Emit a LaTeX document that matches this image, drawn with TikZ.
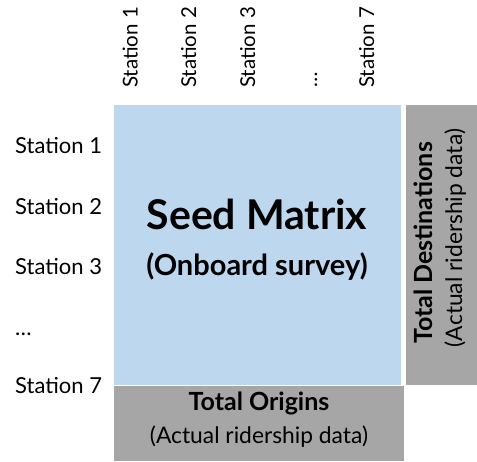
\documentclass[tikz,border=0pt]{standalone}
\usepackage{fontspec}
\setmainfont{Lato}
\definecolor{seedblue}{HTML}{BDD7EE}
\definecolor{totalgray}{HTML}{A6A6A6}
\begin{document}
\begin{tikzpicture}[x=1pt,y=-1pt,
  lbl/.style={inner sep=0pt,font=\fontsize{22}{25}\selectfont},
  collbl/.style={lbl,rotate=90,anchor=base west,font=\fontsize{20.5}{24}\selectfont},
  rowlbl/.style={lbl,anchor=base west},
  sublbl/.style={inner sep=0pt,anchor=base,font=\fontsize{22.8}{26}\selectfont},
  headlbl/.style={inner sep=0pt,anchor=base,font=\fontsize{25}{28}\selectfont\bfseries}]
\useasboundingbox (0,0) rectangle (477,461);

% blocks
\fill[seedblue] (114,105) rectangle (401,385);
\fill[totalgray] (406,105) rectangle (477,385);
\fill[totalgray] (114,386) rectangle (404,461);

% column headers
\node[collbl] (c1) at (137.5,88) {Station 1};
\node[collbl] (c2) at (196,88) {Station 2};
\node[collbl] (c3) at (255,88) {Station 3};
\node[collbl] (c4) at (317,88) {\dots};
\node[collbl] (c7) at (374,88) {Station 7};

% row headers
\node[rowlbl] (r1) at (15,153) {Station 1};
\node[rowlbl] (r2) at (15,214.5) {Station 2};
\node[rowlbl] (r3) at (15,274.5) {Station 3};
\node[rowlbl] (r4) at (15,335) {\dots};
\node[rowlbl] (r7) at (15,393) {Station 7};

% seed matrix
\node[inner sep=0pt,anchor=base,font=\fontsize{41}{46}\selectfont\bfseries] (seed) at (257,229) {Seed Matrix};
\node[inner sep=0pt,anchor=base,font=\fontsize{29}{32}\selectfont\bfseries] (seedsub) at (257,275) {(Onboard survey)};

% totals
\node[headlbl] (orig) at (259,410) {Total Origins};
\node[sublbl] (origsub) at (259,443) {(Actual ridership data)};
\node[headlbl,rotate=90] (dest) at (432,243) {Total Destinations};
\node[sublbl,rotate=90] (destsub) at (462,238) {(Actual ridership data)};
\end{tikzpicture}
\end{document}
